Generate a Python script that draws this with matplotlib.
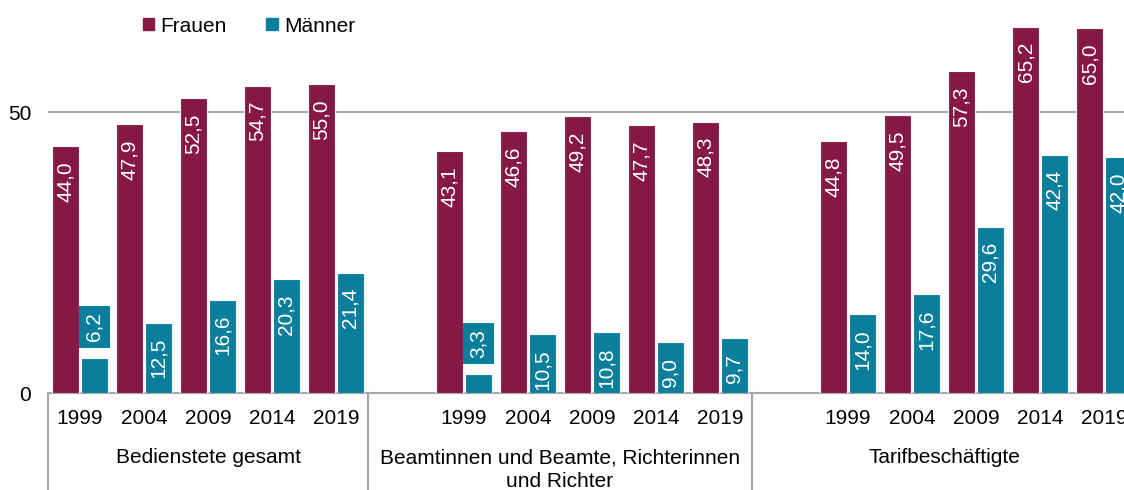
import matplotlib
matplotlib.use("Agg")
import matplotlib.pyplot as plt
import matplotlib.transforms as mtransforms
from matplotlib.patches import Patch

plt.rcParams["font.family"] = ["Liberation Sans", "DejaVu Sans"]

years = ["1999", "2004", "2009", "2014", "2019"]
groups = ["Bedienstete gesamt", "Beamtinnen und Beamte, Richterinnen\nund Richter", "Tarifbeschäftigte"]
frauen = [
    [44.0, 47.9, 52.5, 54.7, 55.0],
    [43.1, 46.6, 49.2, 47.7, 48.3],
    [44.8, 49.5, 57.3, 65.2, 65.0],
]
maenner = [
    [6.2, 12.5, 16.6, 20.3, 21.4],
    [3.3, 10.5, 10.8, 9.0, 9.7],
    [14.0, 17.6, 29.6, 42.4, 42.0],
]

RED = "#861844"
TEAL = "#0a7f9b"
GRID = "#a6a6a6"
FS = 15

fig = plt.figure(figsize=(11.24, 4.9), dpi=100)
# axes deliberately run past the right edge, the source image is cropped there
ax = fig.add_axes([48 / 1124, 97 / 490, 1088 / 1124, 393 / 490])

bw = 0.42
off = 0.225
# slot index of each year: group 1 starts at 0, later groups have one empty slot in front
starts = [0, 6, 12]


def label(x, v, color):
    txt = f"{v:.1f}".replace(".", ",")
    if v < 8:
        ax.annotate(txt, (x, v), xytext=(0, 12), textcoords="offset points",
                    ha="center", va="bottom", rotation=90, color="white", fontsize=FS,
                    bbox=dict(boxstyle="square,pad=0.3", fc=color, ec="none"))
    else:
        ax.annotate(txt, (x, v), xytext=(0, -11), textcoords="offset points",
                    ha="center", va="top", rotation=90, color="white", fontsize=FS)


trans = mtransforms.blended_transform_factory(ax.transData, ax.transAxes)
for g in range(3):
    for i, yr in enumerate(years):
        x = starts[g] + i
        ax.bar(x - off, frauen[g][i], bw, color=RED, edgecolor="white", linewidth=0.8, zorder=3)
        ax.bar(x + off, maenner[g][i], bw, color=TEAL, edgecolor="white", linewidth=0.8, zorder=3)
        label(x - off, frauen[g][i], RED)
        label(x + off, maenner[g][i], TEAL)
        ax.text(x, -25 / 393, yr, transform=trans, ha="center", va="center", fontsize=FS)

spans = [(-0.5, 4.5), (4.5, 10.5), (10.5, 16.5)]
for (a, b), name in zip(spans, groups):
    ax.text((a + b) / 2, -55 / 393, name, transform=trans, ha="center", va="top",
            fontsize=FS, linespacing=1.35)
    for xs in (a, b):
        ax.plot([xs, xs], [0, -0.3], transform=trans, color=GRID, lw=1.5, clip_on=False)

ax.axhline(50, color=GRID, lw=1.5, zorder=1)
ax.set_xlim(-0.5, 16.5)
ax.set_ylim(0, 393 / 5.62)
ax.set_yticks([0, 50])
ax.set_xticks([])
ax.tick_params(axis="y", length=0, labelsize=FS, pad=12)
for s in ["top", "right", "left"]:
    ax.spines[s].set_visible(False)
ax.spines["bottom"].set_color(GRID)
ax.spines["bottom"].set_linewidth(1.5)

handles = [Patch(color=RED, label="Frauen"), Patch(color=TEAL, label="Männer")]
fig.legend(handles=handles, loc="center left", bbox_to_anchor=(124 / 1124, 1 - 26 / 490),
           ncol=2, frameon=False, fontsize=FS, handlelength=0.55, handleheight=0.55,
           handletextpad=0.3, columnspacing=1.9)

fig.savefig("out.png", dpi=100)
